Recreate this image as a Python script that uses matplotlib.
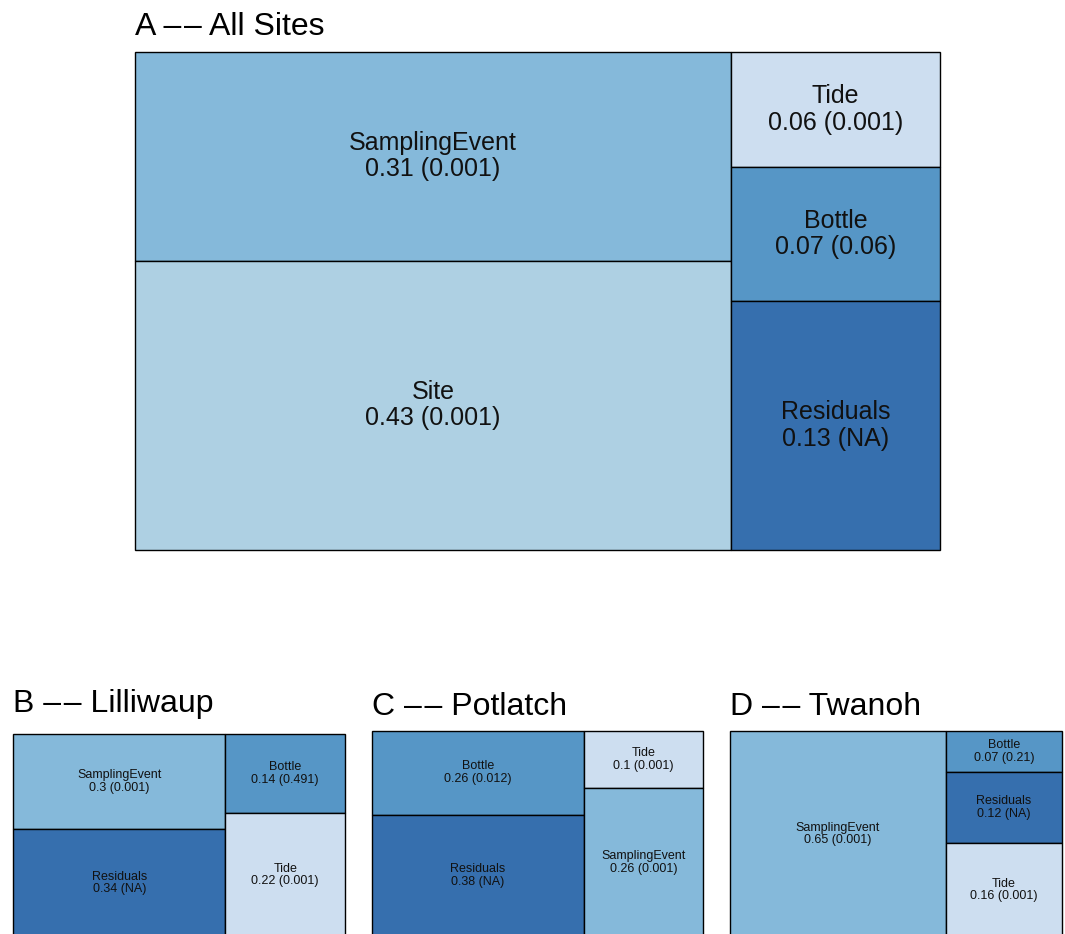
import matplotlib.pyplot as plt
from matplotlib.patches import Rectangle

plt.rcParams['font.family'] = ['Liberation Sans', 'DejaVu Sans']

# variance partitioning (R2 and p-value) per site, in display order
dash = "\u2013\u200a\u2013"
titles = [f"A {dash} All Sites", f"B {dash} Lilliwaup", f"C {dash} Potlatch", f"D {dash} Twanoh"]

a_terms = ["SamplingEvent", "Site", "Tide", "Bottle", "Residuals"]
a_r2 = [0.31, 0.43, 0.06, 0.07, 0.13]
a_p = [0.001, 0.001, 0.001, 0.06, None]

b_terms = ["SamplingEvent", "Residuals", "Bottle", "Tide"]
b_r2 = [0.3, 0.34, 0.14, 0.22]
b_p = [0.001, None, 0.491, 0.001]

c_terms = ["Bottle", "Residuals", "Tide", "SamplingEvent"]
c_r2 = [0.26, 0.38, 0.1, 0.26]
c_p = [0.012, None, 0.001, 0.001]

d_terms = ["SamplingEvent", "Bottle", "Residuals", "Tide"]
d_r2 = [0.65, 0.07, 0.12, 0.16]
d_p = [0.001, 0.21, None, 0.001]

colors = {"Tide": "#cddef0", "Site": "#aed0e3", "SamplingEvent": "#85b9da",
          "Bottle": "#5696c6", "Residuals": "#366fae"}

W, H = 1065, 934
fig = plt.figure(figsize=(W / 100, H / 100), dpi=100)


def two_col_layout(vals, w, h):
    # split the ordered values into two columns, pick split with best aspect ratios
    tot = sum(vals)
    best = None
    for k in range(1, len(vals)):
        rects = []
        x0 = 0
        for grp in (vals[:k], vals[k:]):
            cw = w * sum(grp) / tot
            y0 = 0
            for v in grp:
                rh = h * v / sum(grp)
                rects.append((x0, y0, cw, rh))
                y0 += rh
            x0 += cw
        worst = max(max(r[2] / r[3], r[3] / r[2]) for r in rects)
        if best is None or worst < best[0]:
            best = (worst, rects)
    return best[1]


def panel(box, title, terms, r2, p, fs, title_y, ls):
    x, y, w, h = box
    ax = fig.add_axes([x / W, 1 - (y + h) / H, w / W, h / H])
    ax.set_xlim(0, w)
    ax.set_ylim(h, 0)
    ax.axis('off')
    for (rx, ry, rw, rh), t, v, pv in zip(two_col_layout(r2, w, h), terms, r2, p):
        ax.add_patch(Rectangle((rx, ry), rw, rh, facecolor=colors[t],
                               edgecolor='black', linewidth=1.0, clip_on=False))
        ps = "NA" if pv is None else f"{pv:g}"
        ax.text(rx + rw / 2, ry + rh / 2, f"{t}\n{v:g} ({ps})", ha='center', va='center',
                fontsize=fs, linespacing=ls, color='#111111')
    fig.text(x / W, 1 - title_y / H, title, fontsize=23, ha='left', va='baseline')


panel((135, 52, 805, 498), titles[0], a_terms, a_r2, a_p, 18, 35, 1.12)
panel((13, 734, 332, 203), titles[1], b_terms, b_r2, b_p, 9, 712, 1.08)
panel((372, 731, 331, 206), titles[2], c_terms, c_r2, c_p, 9, 715, 1.08)
panel((730, 731, 332, 206), titles[3], d_terms, d_r2, d_p, 9, 715, 1.08)

fig.savefig("out.png", dpi=100)
